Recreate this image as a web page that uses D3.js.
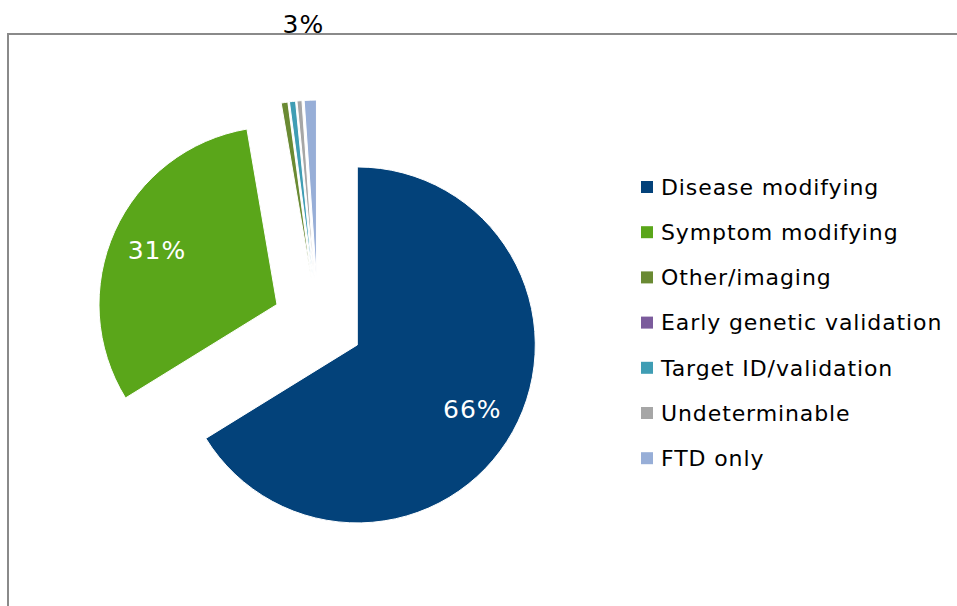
<!DOCTYPE html>
<html>
<head>
<meta charset="utf-8">
<script src="https://d3js.org/d3.v7.min.js"></script>
<style>
	body { margin: 0; background: #fff; }
	text { font-family: "DejaVu Sans", Verdana, sans-serif; }
</style>
</head>
<body>
<svg id="pie-plot" width="957" height="606"></svg>
<script>
// categories and values (percent)
const categories = ["Disease modifying", "Symptom modifying", "Other/imaging",
	"Early genetic validation", "Target ID/validation", "Undeterminable", "FTD only"];
const values = [66.2, 31.1, 0.6, 0, 0.55, 0.45, 1.1];
const colors = ["#03427a", "#5aa61a", "#6a8a33", "#7b5b9c", "#3f9db4", "#a6a6a6", "#97aed7"];
// labels shown on the chart: index of slice -> text
const slice_labels = [{ idx: 0, text: "66%" }, { idx: 1, text: "31%" }];
const small_label = "3%";

const svg = d3.select("#pie-plot");

// plot area border (cropped at right and bottom)
svg.append("rect")
	.attr("x", 8).attr("y", 34)
	.attr("width", 1000).attr("height", 700)
	.attr("fill", "none")
	.attr("stroke", "#8a8a8a")
	.attr("stroke-width", 2);

const cx = 318, cy = 323;
const r = 178;
const explode = 45;

const pie = d3.pie().sort(null).value(d => d);
const arcs = pie(values);

const arc = d3.arc().innerRadius(0).outerRadius(r);
const labelArc = d3.arc().innerRadius(r * 0.74).outerRadius(r * 0.74);

function offset(d) {
	const mid = (d.startAngle + d.endAngle) / 2;
	return [explode * Math.sin(mid), -explode * Math.cos(mid)];
}

const g = svg.append("g").attr("transform", "translate(" + cx + "," + cy + ")");

g.selectAll(".slice")
	.data(arcs)
	.enter()
	.append("path")
	.classed("slice", true)
	.attr("transform", d => "translate(" + offset(d) + ")")
	.attr("d", arc)
	.attr("fill", (d, i) => colors[i])
	.attr("stroke", "#fff")
	.attr("stroke-width", 1);

g.selectAll(".slice-label")
	.data(slice_labels)
	.enter()
	.append("text")
	.classed("slice-label", true)
	.attr("transform", d => {
		const a = arcs[d.idx];
		const o = offset(a);
		const c = labelArc.centroid(a);
		return "translate(" + (o[0] + c[0]) + "," + (o[1] + c[1]) + ")";
	})
	.attr("text-anchor", "middle")
	.attr("dy", "0.35em")
	.attr("fill", "#fff")
	.style("font-size", "25px")
	.style("letter-spacing", "1px")
	.text(d => d.text);

// combined label for the small slices, placed above them
const small = { startAngle: arcs[2].startAngle, endAngle: arcs[6].endAngle };
const so = offset(small);
const outerLabelArc = d3.arc().innerRadius(r * 1.43).outerRadius(r * 1.43);
const sc = outerLabelArc.centroid({
	startAngle: (small.startAngle + small.endAngle) / 2,
	endAngle: small.endAngle
});
g.append("text")
	.attr("x", so[0] + sc[0])
	.attr("y", so[1] + sc[1])
	.attr("text-anchor", "middle")
	.attr("dy", "0.35em")
	.attr("fill", "#000")
	.style("font-size", "25px")
	.style("letter-spacing", "1px")
	.text(small_label);

// legend
const legend = svg.append("g").attr("transform", "translate(641,187)");
const rows = legend.selectAll(".legend-row")
	.data(categories)
	.enter()
	.append("g")
	.classed("legend-row", true)
	.attr("transform", (d, i) => "translate(0," + (i * 45.2) + ")");

rows.append("rect")
	.attr("x", 0).attr("y", -6)
	.attr("width", 12).attr("height", 12)
	.attr("fill", (d, i) => colors[i]);

rows.append("text")
	.attr("x", 20)
	.attr("dy", "0.35em")
	.attr("fill", "#000")
	.style("font-size", "22px")
	.style("letter-spacing", "0.9px")
	.text(d => d);
</script>
</body>
</html>
